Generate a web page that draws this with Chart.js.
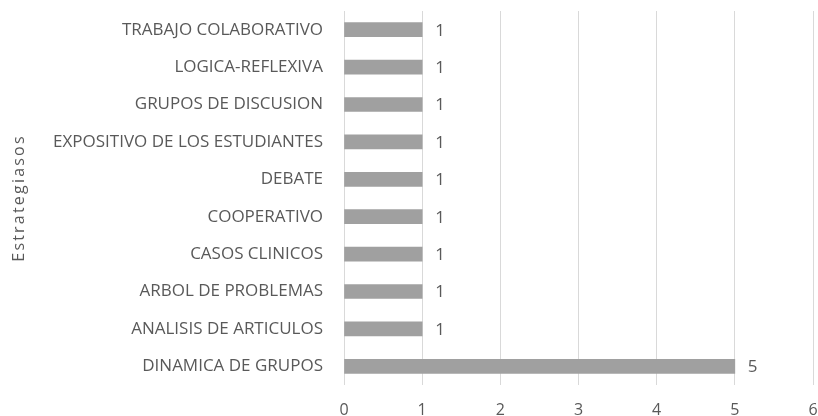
<!DOCTYPE html>
<html><head><meta charset="utf-8">
<script src="https://cdn.jsdelivr.net/npm/chart.js@4"></script>
<style>html,body{margin:0;padding:0;background:#fff}#w{width:818px;height:416px}</style>
</head><body><div id="w"><canvas id="c"></canvas></div>
<script>
const categories = ["TRABAJO COLABORATIVO","LOGICA-REFLEXIVA","GRUPOS DE DISCUSION","EXPOSITIVO DE LOS ESTUDIANTES","DEBATE","COOPERATIVO","CASOS CLINICOS","ARBOL DE PROBLEMAS","ANALISIS DE ARTICULOS","DINAMICA DE GRUPOS"];
const values = [1,1,1,1,1,1,1,1,1,5];
const xTicks = [0,1,2,3,4,5,6];
const axisTitle = "Estrategiasos";

// wider letter spacing for the y-axis title only
const origDrawTitle = Chart.CategoryScale.prototype.drawTitle;
Chart.CategoryScale.prototype.drawTitle = function () {
  const c = this.ctx; const prev = c.letterSpacing;
  c.letterSpacing = '2.2px';
  origDrawTitle.apply(this, arguments);
  c.letterSpacing = prev;
};

const labelPlugin = {
  id: 'vals',
  afterDatasetsDraw(chart) {
    const ctx = chart.ctx;
    const meta = chart.getDatasetMeta(0);
    ctx.save();
    ctx.fillStyle = '#595959';
    ctx.font = '17px "Open Sans"';
    ctx.textAlign = 'left';
    ctx.textBaseline = 'middle';
    meta.data.forEach((bar, i) => {
      ctx.fillText(String(values[i]), bar.x + 13, bar.y + 1);
    });
    ctx.restore();
  }
};

new Chart(document.getElementById('c'), {
  type: 'bar',
  data: { labels: categories, datasets: [{ data: values, backgroundColor: '#a0a0a0', barThickness: 14 }] },
  options: {
    indexAxis: 'y',
    responsive: true, maintainAspectRatio: false, animation: false,
    layout: { padding: { left: 10, right: 5, top: 11, bottom: 0 } },
    plugins: { legend: { display: false }, tooltip: { enabled: false } },
    scales: {
      x: {
        min: 0, max: 6,
        afterBuildTicks(s) { s.ticks = xTicks.map(v => ({ value: v })); },
        grid: { color: '#d9d9d9', drawTicks: false },
        border: { display: false },
        ticks: { color: '#595959', font: { family: 'Open Sans', size: 16 }, padding: 16 },
        afterFit(s) { s.height = 31; s.paddingLeft = 0; s.paddingRight = 0; }
      },
      y: {
        grid: { display: false },
        border: { display: false },
        ticks: { color: '#595959', font: { family: 'Open Sans', size: 17 }, padding: 13 },
        title: { display: true, text: axisTitle, color: '#595959', font: { family: 'Open Sans', size: 16 }, padding: 0 },
        afterFit(s) { s.width = 334; s.paddingTop = 0; s.paddingBottom = 0; }
      }
    }
  },
  plugins: [labelPlugin]
});
</script></body></html>
